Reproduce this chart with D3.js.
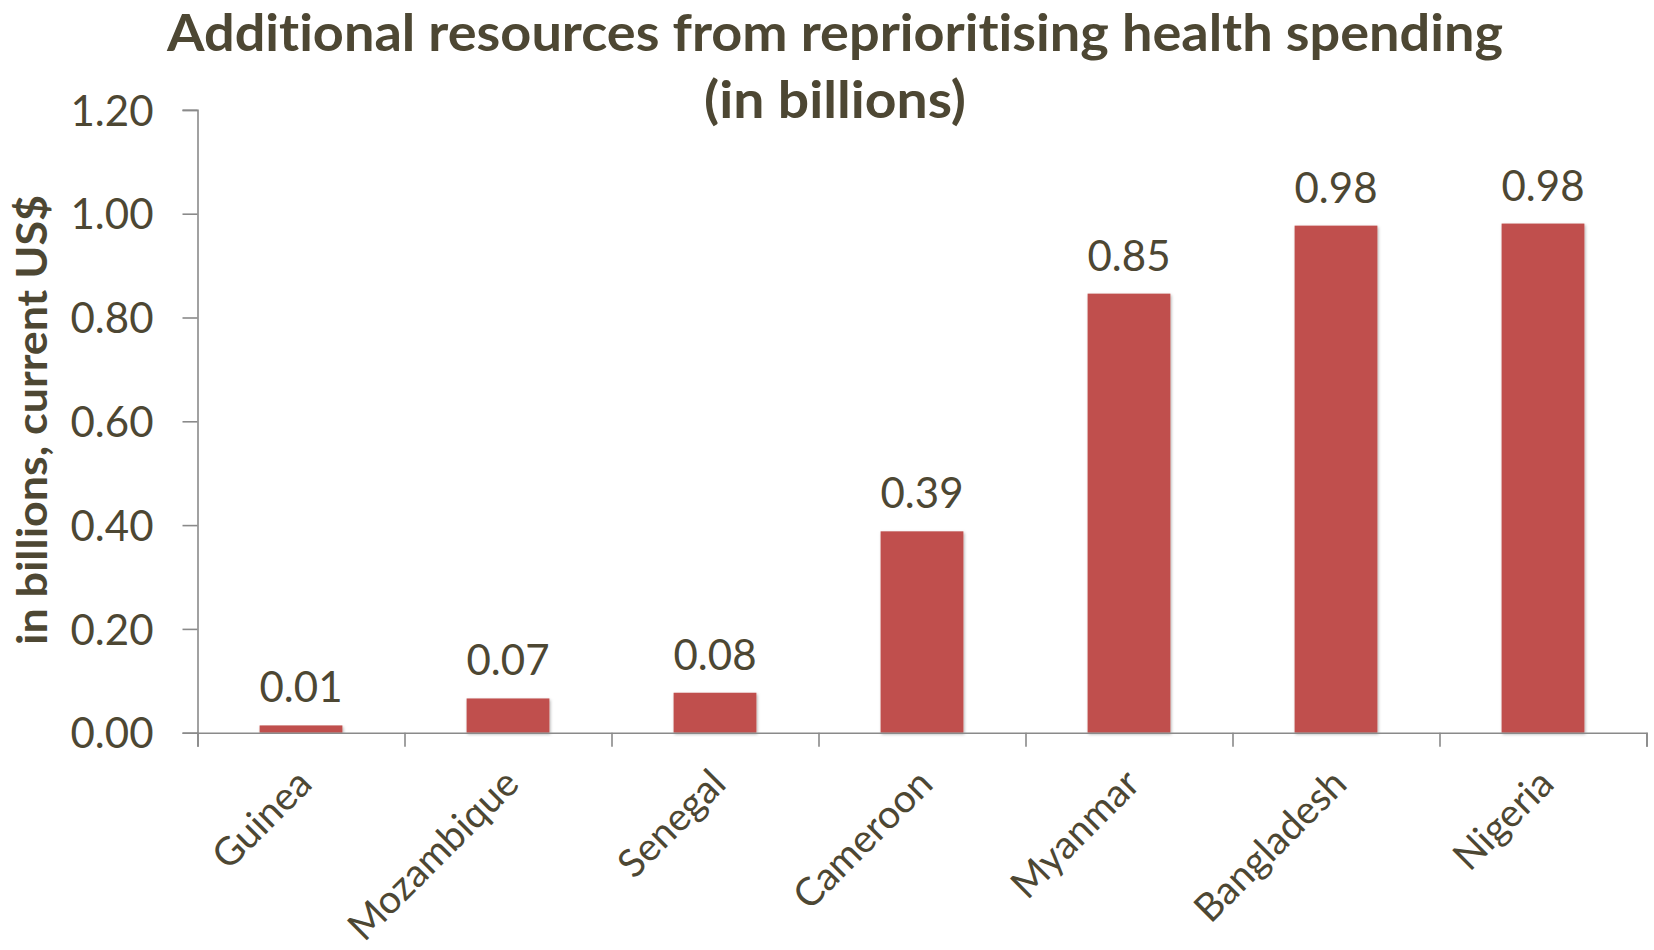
<!DOCTYPE html>
<html>
<head>
<meta charset="utf-8">
<script src="https://cdn.jsdelivr.net/npm/d3@7"></script>
<style>
  html, body { margin: 0; padding: 0; background: #ffffff; }
  svg { display: block; }
  text { font-variant-ligatures: none; }
</style>
</head>
<body>
<script>
// Additional resources from reprioritising health spending, by country
const categories = ["Guinea", "Mozambique", "Senegal", "Cameroon", "Myanmar", "Bangladesh", "Nigeria"];
const values = [0.014, 0.066, 0.077, 0.388, 0.846, 0.977, 0.981];
const yTicks = [0, 0.2, 0.4, 0.6, 0.8, 1.0, 1.2];
const titleLines = ["Additional resources from reprioritising health spending", "(in billions)"];
const yTitle = "in billions, current US$";

const W = 1654, H = 950;
const textColor = "#4d4733";
const axisColor = "#8a8a8a";
const barColor = "#c0504d";
const fontFamily = "Lato, 'Open Sans', sans-serif";

const plot = { left: 197.5, right: 1646.5, top: 109.9, bottom: 732.7 };

const svg = d3.select("body").append("svg")
  .attr("width", W).attr("height", H)
  .attr("viewBox", `0 0 ${W} ${H}`);

// soft shadow under the bars
const defs = svg.append("defs");
defs.append("filter").attr("id", "barShadow")
  .attr("x", "-20%").attr("y", "-5%").attr("width", "140%").attr("height", "115%")
  .append("feDropShadow")
  .attr("dx", 1).attr("dy", 1.5).attr("stdDeviation", 1.8)
  .attr("flood-color", "#000").attr("flood-opacity", 0.3);

const x = d3.scaleBand().domain(categories)
  .range([plot.left, plot.right])
  .paddingInner(0.6).paddingOuter(0.3);

const y = d3.scaleLinear().domain([0, 1.2]).range([plot.bottom, plot.top]);

// category boundaries for the x-axis tick marks
const boundary = d3.scaleLinear().domain([0, categories.length]).range([plot.left, plot.right]);

// bars
svg.append("g").selectAll("rect")
  .data(categories.map((c, i) => ({ c, v: values[i] })))
  .join("rect")
  .attr("x", d => x(d.c))
  .attr("y", d => y(d.v))
  .attr("width", x.bandwidth())
  .attr("height", d => y(0) - y(d.v))
  .attr("fill", barColor)
  .attr("filter", "url(#barShadow)");

// y axis
const yAxis = svg.append("g")
  .attr("transform", `translate(${plot.left},0)`)
  .call(d3.axisLeft(y).tickValues(yTicks).tickSize(15).tickPadding(29)
    .tickFormat(d3.format(".2f")));
yAxis.selectAll("path, line").attr("stroke", axisColor).attr("stroke-width", 1.6);
yAxis.selectAll("text")
  .attr("fill", textColor)
  .attr("font-family", fontFamily)
  .attr("font-size", 42)
  .attr("dy", "0.36em");

// x axis
const xAxis = svg.append("g")
  .attr("transform", `translate(0,${plot.bottom})`)
  .call(d3.axisBottom(boundary).tickValues(d3.range(categories.length + 1))
    .tickSize(14).tickFormat(""));
xAxis.selectAll("path, line").attr("stroke", axisColor).attr("stroke-width", 1.6);

// rotated category labels
svg.append("g").selectAll("text")
  .data(categories)
  .join("text")
  .attr("transform", d => `translate(${x(d) + x.bandwidth() / 2 + 13},786) rotate(-45)`)
  .attr("text-anchor", "end")
  .attr("fill", textColor)
  .attr("font-family", fontFamily)
  .attr("font-size", 39)
  .text(d => d);

// value labels
const fmt = d3.format(".2f");
svg.append("g").selectAll("text")
  .data(categories.map((c, i) => ({ c, v: values[i] })))
  .join("text")
  .attr("x", d => x(d.c) + x.bandwidth() / 2)
  .attr("y", d => y(d.v) - 23)
  .attr("text-anchor", "middle")
  .attr("fill", textColor)
  .attr("font-family", fontFamily)
  .attr("font-size", 42)
  .text(d => fmt(d.v));

// chart title
svg.append("g").selectAll("text")
  .data(titleLines)
  .join("text")
  .attr("x", 835)
  .attr("y", (d, i) => 51 + i * 67)
  .attr("text-anchor", "middle")
  .attr("fill", textColor)
  .attr("font-family", fontFamily)
  .attr("font-weight", 700)
  .attr("font-size", 52)
  .attr("textLength", (d, i) => i === 0 ? 1336 : 262)
  .attr("lengthAdjust", "spacingAndGlyphs")
  .text(d => d);

// y axis title
svg.append("text")
  .attr("transform", `translate(47,420) rotate(-90)`)
  .attr("text-anchor", "middle")
  .attr("fill", textColor)
  .attr("font-family", fontFamily)
  .attr("font-weight", 700)
  .attr("font-size", 42)
  .attr("textLength", 450)
  .attr("lengthAdjust", "spacingAndGlyphs")
  .text(yTitle);
</script>
</body>
</html>
